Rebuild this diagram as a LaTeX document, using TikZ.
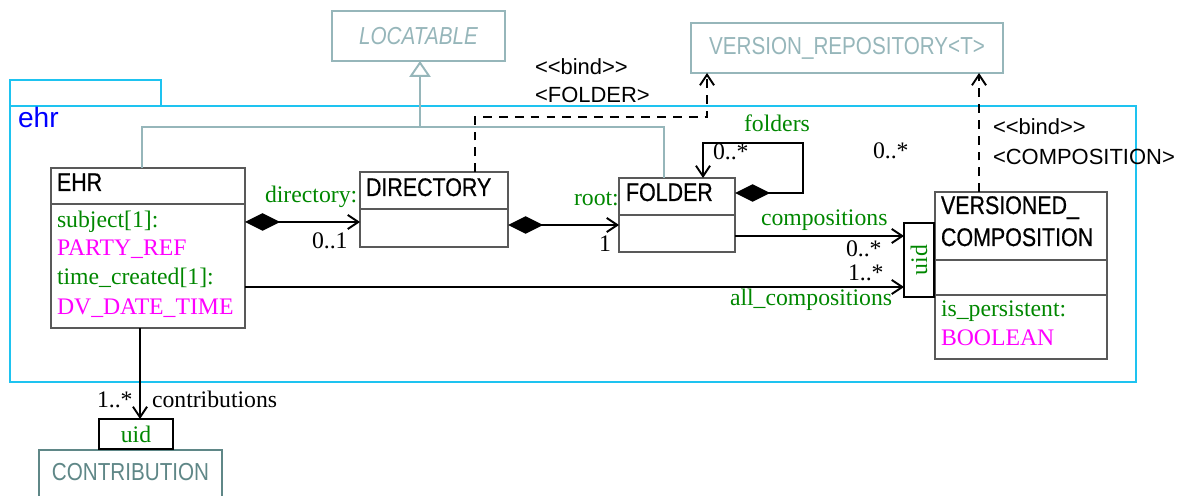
\documentclass[tikz,border=0pt]{standalone}
\usepackage{fontspec}
\setmainfont{Liberation Serif}
\newfontfamily\clsfont[FakeStretch=0.84]{Liberation Sans}
\newfontfamily\clsheavy[FakeStretch=0.84, FakeBold=0.6]{Liberation Sans}
\newfontfamily\tagfont{Liberation Sans}
\usetikzlibrary{arrows.meta, fit, positioning}
\definecolor{pkgcyan}{RGB}{30,195,240}
\definecolor{ifcgray}{RGB}{150,182,186}
\definecolor{contribteal}{RGB}{95,135,135}
\definecolor{attrgreen}{RGB}{0,135,0}
\definecolor{typemag}{RGB}{255,0,255}

\begin{document}
\begin{tikzpicture}[x=0.02cm, y=-0.02cm,
  every node/.style={inner sep=0pt, outer sep=0pt},
  clsbox/.style={draw=black!65, line width=0.6pt},
  ifcbox/.style={draw=ifcgray, line width=1.2pt},
  ifcname/.style={text=ifcgray, font=\clsfont\fontsize{14}{16}\selectfont},
  qualbox/.style={draw=black, line width=1.4pt},
  title/.style={anchor=base west, font=\clsheavy\fontsize{14.5}{17}\selectfont},
  attr/.style={anchor=base west, text=attrgreen, font=\fontsize{13.5}{16}\selectfont},
  atype/.style={anchor=base west, text=typemag, font=\fontsize{13.5}{16}\selectfont},
  mult/.style={anchor=base west, font=\fontsize{13.5}{16}\selectfont},
  tag/.style={anchor=base west, font=\tagfont\fontsize{12.5}{15}\selectfont},
  assoc/.style={line width=1.1pt, -{Straight Barb[length=6pt,width=8pt]}},
  comp/.style={line width=1.1pt,
    {Diamond[length=20pt,width=10pt]}-{Straight Barb[length=6pt,width=8pt]}},
  genline/.style={draw=ifcgray, line width=1.1pt},
  bindline/.style={line width=1.1pt, dash pattern=on 5pt off 4pt,
    -{Straight Barb[length=6pt,width=8pt]}}
]
  \useasboundingbox (0,0) rectangle (1180,496);

  % package ehr
  \node[draw=pkgcyan, line width=1.2pt, fit={(10,80) (161,106)}] (pkgtab) {};
  \node[draw=pkgcyan, line width=1.2pt, fit={(10,106) (1136,382)}] (pkg) {};
  \node[anchor=base west, text=blue, font=\tagfont\fontsize{16}{18}\selectfont]
    (pkgname) at (18,128) {ehr};

  % outside classes
  \node[ifcbox, fit={(332,11) (505,61)}] (locat) {};
  \node[ifcname, font=\clsfont\itshape\fontsize{14}{16}\selectfont]
    (locatname) at (locat.center) {LOCATABLE};
  \node[ifcbox, fit={(691,23) (1003,73)}] (vrepo) {};
  \node[ifcname] (vreponame) at (vrepo.center) {VERSION\_REPOSITORY<T>};
  \node[ifcbox, draw=contribteal, fit={(39,450) (222,500)}] (contrib) {};
  \node[ifcname, text=contribteal] (contribname) at ([yshift=0.05cm]contrib.center) {CONTRIBUTION};
  \node[qualbox, fit={(99,419) (173,449)}] (cuid) {};
  \node[text=attrgreen, font=\fontsize{13.5}{16}\selectfont] (cuidtxt) at (cuid.center) {uid};

  % EHR
  \node[clsbox, fit={(51,168) (245,328)}] (ehr) {};
  \draw[clsbox] (ehr.west |- 0,204) -- (ehr.east |- 0,204);
  \node[title] (ehrname) at (57,191) {EHR};
  \node[attr] (ehrsubj) at (57,228) {subject[1]:};
  \node[atype] (ehrsubjt) at (57,256) {PARTY\_REF};
  \node[attr] (ehrtime) at (57,285) {time\_created[1]:};
  \node[atype] (ehrtimet) at (57,315) {DV\_DATE\_TIME};

  % DIRECTORY
  \node[clsbox, fit={(360,172) (508,247)}] (dir) {};
  \draw[clsbox] (dir.west |- 0,209) -- (dir.east |- 0,209);
  \node[title] (dirname) at (366,196) {DIRECTORY};

  % FOLDER
  \node[clsbox, fit={(619,178) (735,252)}] (folder) {};
  \draw[clsbox] (folder.west |- 0,215) -- (folder.east |- 0,215);
  \node[title] (foldername) at (626,201) {FOLDER};

  % VERSIONED_COMPOSITION
  \node[clsbox, fit={(935,192) (1107,359)}] (vcomp) {};
  \draw[clsbox] (vcomp.west |- 0,260) -- (vcomp.east |- 0,260);
  \draw[clsbox] (vcomp.west |- 0,295) -- (vcomp.east |- 0,295);
  \node[title] (vcname) at (941,214) {VERSIONED\_};
  \node[title] (vcname2) at (941,246) {COMPOSITION};
  \node[attr] (vcpers) at (941,317) {is\_persistent:};
  \node[atype] (vcperst) at (941,346) {BOOLEAN};
  \node[qualbox, fit={(904,223) (934,297)}] (vcuid) {};
  \node[rotate=90, text=attrgreen, font=\fontsize{13.5}{16}\selectfont]
    (vcuidtxt) at (vcuid.center) {uid};

  % inheritance
  \coordinate (genjoin) at (420,127);
  \draw[genline] (ehr.north -| 142,0) |- (genjoin) -| (folder.north -| 664,0);
  \draw[genline, -{Triangle[open, length=9pt, width=12pt]}] (genjoin) -- (locat.south -| 420,0);

  % bindings
  \draw[bindline] (dir.north -| 475,0) |- (707,117) -- (vrepo.south -| 707,0);
  \draw[bindline] (vcomp.north -| 979,0) -- (vrepo.south -| 979,0);
  \node[tag] (bind1) at (535,75) {<\kern0pt<bind>\kern0pt>};
  \node[tag] (bind1t) at (535,103) {<FOLDER>};
  \node[tag] (bind2) at (993,135) {<\kern0pt<bind>\kern0pt>};
  \node[tag] (bind2t) at (993,165) {<COMPOSITION>};
  \node[mult] (vrmult) at (873,159) {0..*};

  % associations
  \draw[comp] (ehr.east |- 0,222) -- (dir.west |- 0,222);
  \node[attr] (dirrole) at (265,203) {directory:};
  \node[mult] (dirmult) at (312,249) {0..1};

  \draw[comp] (dir.east |- 0,225) -- (folder.west |- 0,225);
  \node[attr] (rootrole) at (574,206) {root:};
  \node[mult] (rootmult) at (599,252) {1};

  \draw[comp] (folder.east |- 0,193) -- (803,193) |- (703,143) -- (folder.north -| 703,0);
  \node[attr] (fldrole) at (744,132) {folders};
  \node[mult] (fldmult) at (713,160) {0..*};

  \draw[assoc] (folder.east |- 0,236) -- (vcuid.west |- 0,236);
  \node[attr] (comprole) at (761,226) {compositions};
  \node[mult] (compmult) at (846,257) {0..*};

  \draw[assoc] (ehr.east |- 0,287) -- (vcuid.west |- 0,287);
  \node[mult] (allmult) at (848,281) {1..*};
  \node[attr] (allrole) at (730,306) {all\_compositions};

  \draw[assoc] (ehr.south -| 140,0) -- (cuid.north -| 140,0);
  \node[mult] (contmult) at (97,408) {1..*};
  \node[mult] (controle) at (152,408) {contributions};
\end{tikzpicture}
\end{document}
